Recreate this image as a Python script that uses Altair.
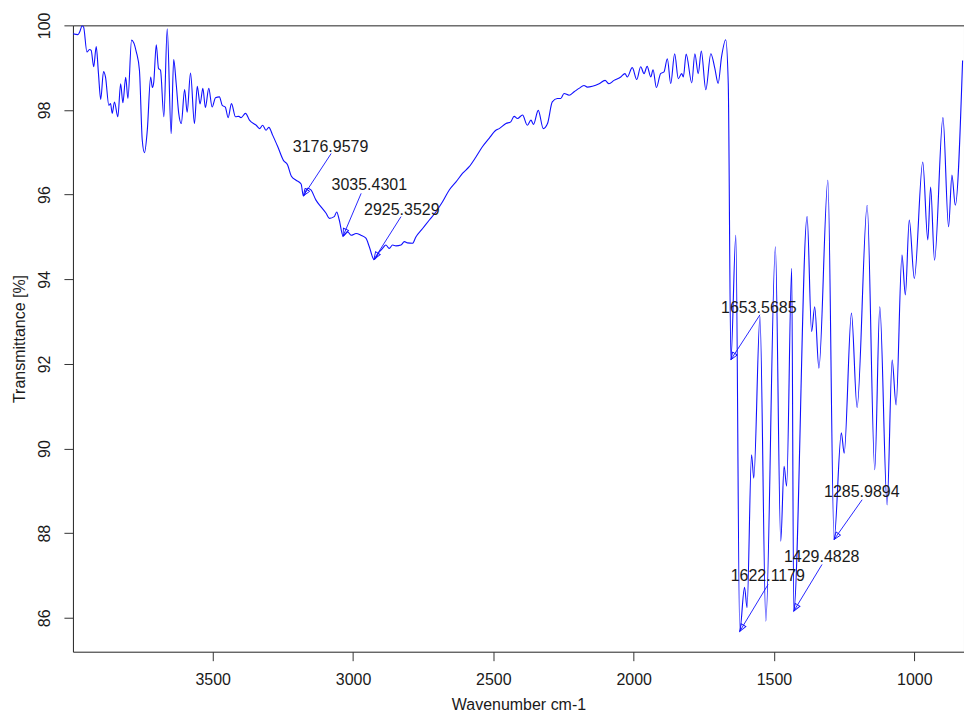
import math
import altair as alt
import pandas as pd

# ---- spectrum ----
wavenumber = [
    3998, 3980, 3974, 3965, 3960, 3948, 3939, 3933, 3924, 3915,
    3907, 3899, 3889, 3882, 3870, 3864, 3858, 3850, 3838, 3828,
    3820, 3810, 3802, 3789, 3772, 3761, 3751, 3743, 3733, 3721,
    3715, 3710, 3701, 3693, 3686, 3674, 3662, 3648, 3639, 3630,
    3621, 3612, 3600, 3591, 3579, 3565, 3555, 3545, 3535, 3526,
    3514, 3502, 3490, 3476, 3466, 3455, 3445, 3433, 3419, 3407,
    3399, 3383, 3369, 3345, 3333, 3322, 3310, 3300, 3286, 3268,
    3248, 3233, 3220, 3203, 3185, 3176.96, 3162, 3150, 3132, 3114,
    3096, 3084, 3067, 3058, 3049, 3035.43, 3019, 3007, 2989, 2972,
    2954, 2942, 2925.35, 2906, 2895, 2883, 2871, 2859, 2847, 2829,
    2817, 2806, 2788, 2776, 2752, 2728, 2705, 2681, 2657, 2633,
    2610, 2586, 2562, 2539, 2515, 2491, 2479, 2455, 2438, 2426,
    2414, 2396, 2379, 2366, 2357, 2340, 2322, 2307, 2290, 2272,
    2260, 2248, 2230, 2212, 2195, 2177, 2165, 2147, 2123, 2102,
    2088, 2070, 2046, 2031, 2023, 2005, 1989, 1975, 1963, 1952,
    1939, 1931, 1919, 1904, 1892, 1880, 1868, 1854, 1841, 1829,
    1823, 1813, 1793, 1782, 1770, 1759, 1743, 1725, 1711, 1699,
    1687, 1672, 1663, 1653.57, 1636, 1622.12, 1605, 1596, 1580, 1572,
    1550, 1529, 1495, 1476, 1464, 1455, 1437, 1429.48, 1382, 1366,
    1355, 1340, 1308, 1285.99, 1260, 1250, 1224, 1204, 1168, 1141,
    1123, 1097, 1079, 1065, 1044, 1032, 1018, 1000, 970, 952,
    942, 928, 898, 878, 866, 854, 828,
]
transmittance = [
    99.80, 99.78, 99.84, 99.99, 99.96, 99.37, 99.43, 99.41, 99.02, 99.50,
    98.86, 98.25, 98.91, 98.78, 98.11, 98.15, 97.92, 98.19, 97.84, 98.62,
    98.17, 98.77, 98.27, 99.65, 99.37, 98.94, 97.29, 96.99, 97.52, 98.78,
    98.53, 98.66, 99.54, 98.98, 98.94, 97.84, 99.92, 97.44, 99.19, 98.62,
    97.92, 97.68, 98.48, 97.95, 98.87, 97.68, 98.56, 98.14, 98.51, 98.06,
    98.51, 98.07, 98.29, 98.31, 98.11, 98.07, 97.82, 98.15, 97.84, 97.85,
    97.82, 97.92, 97.76, 97.64, 97.56, 97.64, 97.52, 97.59, 97.40, 97.13,
    96.81, 96.70, 96.44, 96.34, 96.25, 95.97, 96.15, 96.11, 95.87, 95.71,
    95.56, 95.44, 95.48, 95.59, 95.40, 95.02, 95.12, 95.04, 95.08, 95.04,
    94.97, 94.77, 94.47, 94.65, 94.73, 94.81, 94.73, 94.81, 94.79, 94.81,
    94.89, 94.86, 94.85, 95.00, 95.20, 95.40, 95.59, 95.83, 96.11, 96.30,
    96.50, 96.66, 96.89, 97.13, 97.33, 97.52, 97.56, 97.68, 97.72, 97.85,
    97.80, 97.88, 97.64, 97.76, 97.66, 97.99, 97.56, 97.68, 98.19, 98.27,
    98.27, 98.39, 98.35, 98.43, 98.51, 98.58, 98.54, 98.56, 98.62, 98.70,
    98.62, 98.70, 98.78, 98.86, 98.78, 99.00, 98.72, 99.02, 98.86, 99.03,
    98.78, 98.95, 98.53, 98.86, 98.90, 99.21, 98.62, 99.33, 98.74, 98.86,
    98.78, 99.32, 98.64, 99.33, 98.86, 99.39, 98.48, 99.33, 98.99, 98.63,
    99.25, 99.66, 98.63, 92.10, 95.04, 85.68, 86.72, 86.24, 89.85, 89.30,
    93.12, 85.92, 94.77, 87.81, 89.58, 89.11, 94.26, 86.16, 95.48, 92.76,
    93.35, 91.90, 96.34, 87.85, 90.37, 89.89, 93.20, 90.97, 95.75, 89.50,
    93.35, 88.67, 92.09, 91.03, 94.57, 93.63, 95.40, 94.02, 96.77, 94.93,
    96.18, 94.45, 97.82, 95.24, 96.46, 95.75, 99.17,
]

# ---- peak annotations ----
peak_labels = ["3176.9579", "3035.4301", "2925.3529", "1653.5685",
               "1622.1179", "1429.4828", "1285.9894"]
tip_wn = [3176.96, 3035.43, 2925.35, 1653.57, 1622.12, 1429.48, 1285.99]
tip_T = [95.97, 95.02, 94.47, 92.10, 85.68, 86.16, 87.85]
arrow_wn = [3078, 2971, 2829, 1550, 1521, 1329, 1186]
arrow_T = [96.97, 96.03, 95.48, 93.16, 86.79, 87.26, 88.79]
text_wn = [3080, 2942, 2826, 1554, 1522, 1330, 1187]
text_T = [97.00, 96.11, 95.52, 93.20, 86.86, 87.33, 88.86]

x_ticks = [3500, 3000, 2500, 2000, 1500, 1000]
y_ticks = [86, 88, 90, 92, 94, 96, 98, 100]

W, H = 892, 627
XMIN, XMAX = 823, 3998
YMIN, YMAX = 85.2, 100

BLUE = "#1010ff"
FONT = "Liberation Sans"

spec = pd.DataFrame({"wn": wavenumber, "T": transmittance})

# arrowhead orientation from the scale geometry
pxw = W / (XMAX - XMIN)
pxT = H / (YMAX - YMIN)
angles = []
for a_w, a_t, t_w, t_t in zip(arrow_wn, arrow_T, tip_wn, tip_T):
    dx = (a_w - t_w) * pxw
    dy = (a_t - t_t) * pxT
    angles.append(math.degrees(math.atan2(dx, -dy)) % 360)

ann = pd.DataFrame({
    "label": peak_labels,
    "wn": tip_wn, "T": tip_T,
    "wn2": arrow_wn, "T2": arrow_T,
    "twn": text_wn, "tT": text_T,
    "angle": angles,
})

xscale = alt.Scale(domain=[XMIN, XMAX], reverse=True, nice=False, zero=False)
yscale = alt.Scale(domain=[YMIN, YMAX], nice=False, zero=False)

xaxis = alt.Axis(values=x_ticks, format="d", title="Wavenumber cm-1", labelPadding=11,
                 titlePadding=9, labelFlush=False)
yaxis = alt.Axis(values=y_ticks, format="d", title="Transmittance [%]", labelAngle=270,
                 labelAlign="center", labelBaseline="alphabetic",
                 labelPadding=14, labelFlush=False,
                 titleAngle=270, titleAlign="center", titleBaseline="alphabetic",
                 titleX=-48, titleY=H / 2)

line = alt.Chart(spec).mark_line(color=BLUE, strokeWidth=1.1, interpolate="monotone",
                                 clip=True).encode(
    x=alt.X("wn:Q", scale=xscale, axis=xaxis),
    y=alt.Y("T:Q", scale=yscale, axis=yaxis),
    order=alt.Order("wn:Q", sort="descending"),
)

arrows = alt.Chart(ann).mark_rule(color=BLUE, strokeWidth=0.9).encode(
    x=alt.X("wn:Q", scale=xscale), y=alt.Y("T:Q", scale=yscale),
    x2="wn2:Q", y2="T2:Q",
)

heads = alt.Chart(ann).mark_point(
    shape="M0,0L-0.45,1.2L0.45,1.2Z", filled=False, color=BLUE,
    strokeWidth=0.9, size=150, opacity=1,
).encode(
    x=alt.X("wn:Q", scale=xscale), y=alt.Y("T:Q", scale=yscale),
    angle=alt.Angle("angle:Q", scale=None),
)

texts = alt.Chart(ann).mark_text(
    font=FONT, fontSize=16, color="#1a1a1a", align="center", baseline="alphabetic",
).encode(
    x=alt.X("twn:Q", scale=xscale), y=alt.Y("tT:Q", scale=yscale),
    text="label:N",
)

chart = alt.layer(line, arrows, heads, texts).properties(
    width=W, height=H,
    autosize=alt.AutoSizeParams(type="none"),
    padding={"left": 73, "top": 25, "right": 0, "bottom": 66},
).configure_axis(
    labelFont=FONT, titleFont=FONT, labelFontSize=16, titleFontSize=16,
    titleFontWeight="normal", labelColor="#1a1a1a", titleColor="#1a1a1a",
    tickColor="#333333", tickSize=9, tickWidth=1, grid=False, domain=False,
).configure_view(stroke="#222222", strokeWidth=1)

chart.save("out.html", embed_options={"renderer": "svg", "actions": False})
